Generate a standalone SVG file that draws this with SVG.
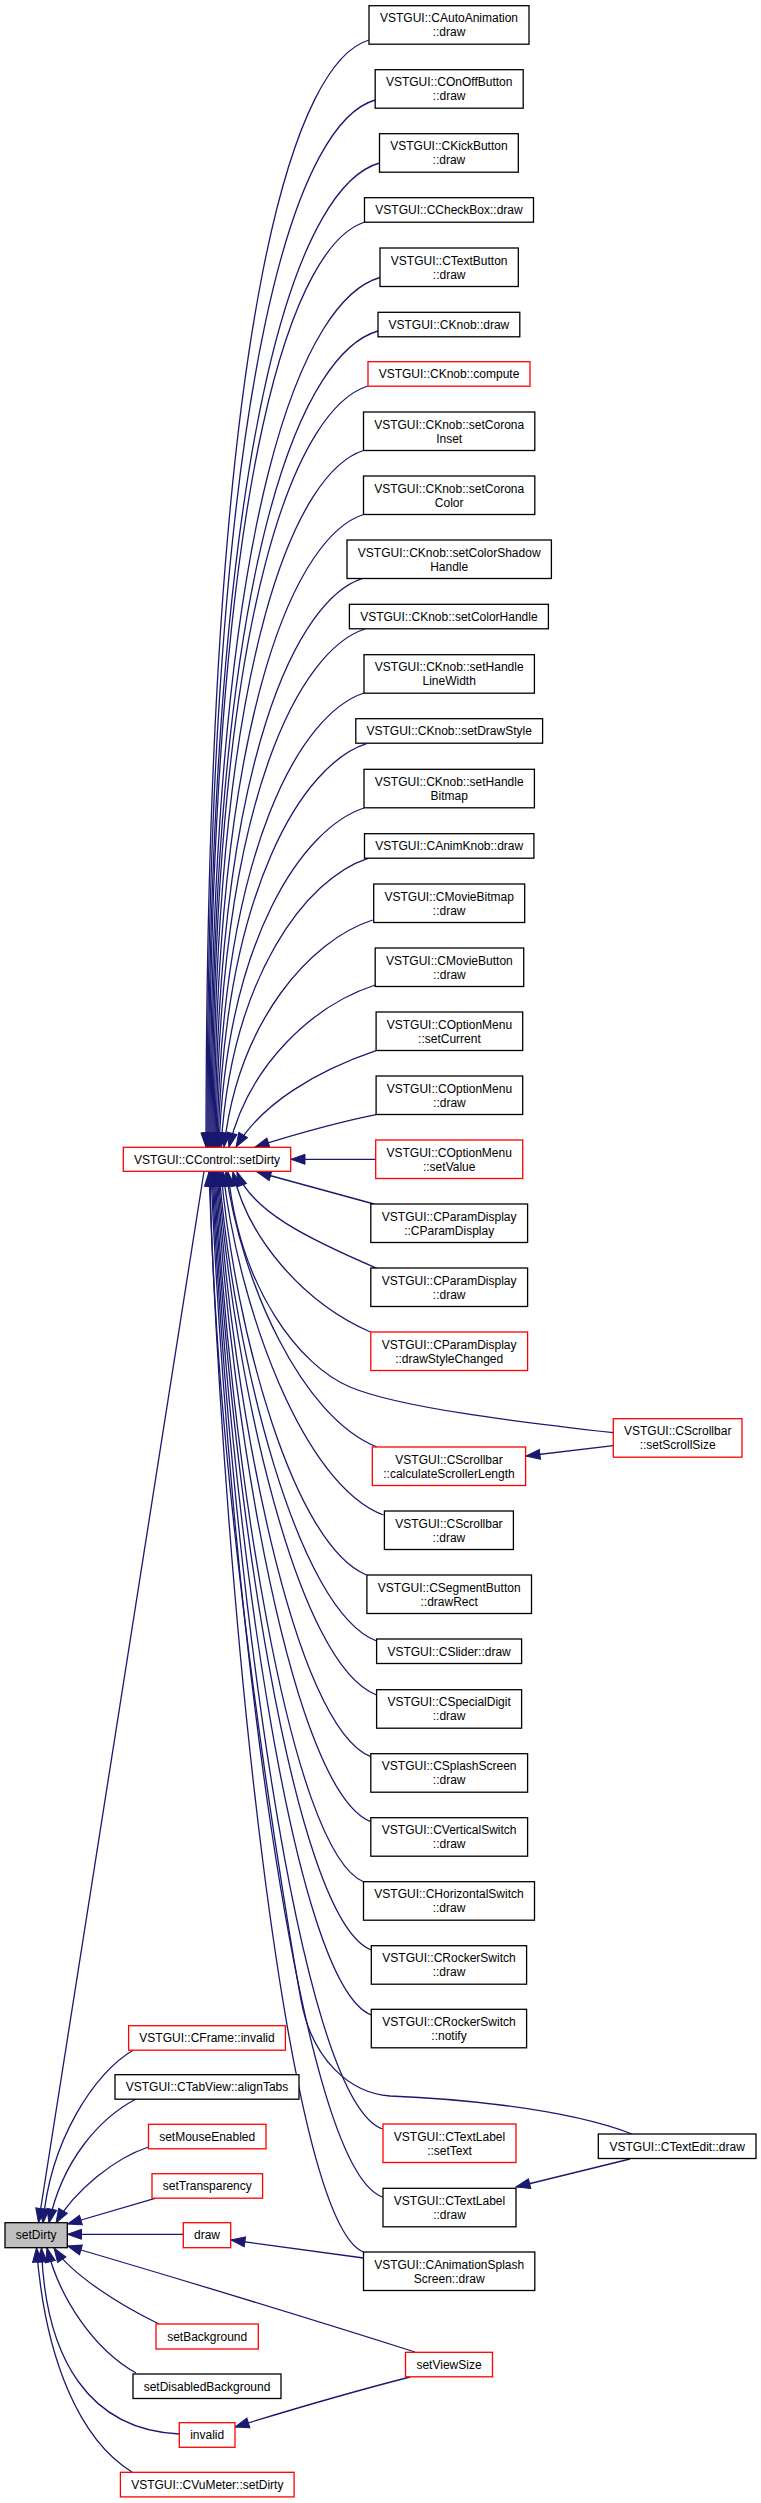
<svg xmlns="http://www.w3.org/2000/svg" width="761" height="2503" viewBox="0 0 761 2503">
<defs>
<style>
.n rect{fill:#fff;stroke:#000;stroke-width:1.3}
.r rect{fill:#fff;stroke:#ff0000;stroke-width:1.3}
.root rect{fill:#bfbfbf;stroke:#000;stroke-width:1.3}
text{font-family:"Liberation Sans",Arial,sans-serif;font-size:12px;text-anchor:middle;fill:#000}
#edges path{fill:none;stroke:#191970;stroke-width:1.3;marker-end:url(#ah)}
</style>
<marker id="ah" markerUnits="userSpaceOnUse" markerWidth="15" markerHeight="11" refX="14" refY="5" orient="auto" overflow="visible">
<path d="M0,0 L14,5 L0,10 Z" fill="#191970" stroke="#191970" stroke-width="1"/>
</marker>
</defs>
<rect width="761" height="2503" fill="#fff"/>
<g id="edges">
<path d="M369,40 C300.5,60 206.2,281 206,1147"/>
<path d="M375.2,100 C304.4,120 207.3,333.5 207,1147"/>
<path d="M379.5,163 C307.5,183 208.4,387 208,1147"/>
<path d="M365,222 C299.5,242 209.5,439 209,1147"/>
<path d="M380,277.5 C308.6,297.5 210.7,487 210,1147"/>
<path d="M378,331 C307.9,351 211.8,533.5 211,1147"/>
<path d="M368,386 C302.5,406 213,581.5 212,1147"/>
<path d="M363.5,450.5 C300.3,470.5 214.4,637.8 213,1147"/>
<path d="M363.5,514.5 C300.7,534.5 215.9,693.5 214,1147"/>
<path d="M362,578.7 C300.3,598.7 217.6,748.7 215,1147"/>
<path d="M365,629 C302.4,649 219.4,791 216,1147"/>
<path d="M364,693 C302.3,713 221.5,845 217,1147"/>
<path d="M366.5,743.7 C304.1,763.7 223.9,886.5 218,1147"/>
<path d="M364,808 C303.1,828 227,937.8 219,1147"/>
<path d="M368,858.3 C306.3,878.3 231.4,976.3 221,1147"/>
<path d="M372.7,920 C310.2,940 238.3,1021 224,1147"/>
<path d="M375.2,985 C313.8,1005 248.5,1064.4 229,1147"/>
<path d="M376,1050.7 C317.2,1070.7 262,1103.1 236,1147"/>
<path d="M376,1114.7 C330,1124 290,1136 255,1147"/>
<path d="M375.7,1159.3 L291,1159.3"/>
<path d="M374,1204 C330,1192 290,1181 257,1172"/>
<path d="M377,1268.3 C307,1238.3 251,1210.5 237,1172"/>
<path d="M370.4,1332 C301.7,1302 246.7,1236 233,1172"/>
<path d="M613.3,1432.7 C520,1422 400,1408 350,1387 C300,1366 240,1290 228,1172"/>
<path d="M377,1447 C301.5,1417 241,1282 226,1172"/>
<path d="M383.5,1515 C303.3,1485 239,1309.2 223,1172"/>
<path d="M366.5,1575 C293.8,1545 235.6,1333.2 221,1172"/>
<path d="M376.6,1641 C297.8,1611 234.8,1359.6 219,1172"/>
<path d="M376.6,1695 C297.3,1665 233.9,1381.2 218,1172"/>
<path d="M370.8,1756.7 C293.9,1726.7 232.4,1405.9 217,1172"/>
<path d="M370.8,1821.7 C293.4,1791.7 231.5,1431.9 216,1172"/>
<path d="M364,1882 C289.5,1852 229.9,1456 215,1172"/>
<path d="M371.3,1950 C292.7,1920 229.7,1483.2 214,1172"/>
<path d="M371.3,2015 C292.2,1985 228.8,1509.2 213,1172"/>
<path d="M382.5,2129 C297.3,2099 229.1,1554.8 212,1172"/>
<path d="M382.5,2197 C296.8,2167 228.2,1582 211,1172"/>
<path d="M632,2134 C560,2106 440,2098 390,2096 C350,2093 312,2060 301,2000 C290,1940 215,1500 210,1172"/>
<path d="M363.5,2252 C286,2222 224.5,1604 209,1172"/>
<path d="M613.3,1445.7 L526,1456"/>
<path d="M630,2159 L516,2187"/>
<path d="M363.5,2258 L231,2240"/>
<path d="M410,2377 C340,2395 290,2410 235,2427"/>
<path d="M204,1171.5 L38.5,2222.5"/>
<path d="M133.5,2050 C95,2072 50,2140 43,2223"/>
<path d="M136,2099 C100,2118 62,2160 49,2223"/>
<path d="M148.5,2147 C115,2158 75,2190 56,2223"/>
<path d="M155,2198.3 L67.5,2224"/>
<path d="M183.3,2234.3 L67.5,2234.3"/>
<path d="M415,2352 C330,2325 200,2285 67.5,2246"/>
<path d="M159,2324 C120,2305 72,2275 54,2248"/>
<path d="M136,2373 C95,2350 60,2300 47,2248"/>
<path d="M179.5,2434 C90,2430 45,2360 41.5,2248"/>
<path d="M132,2472 C80,2440 45,2360 36.5,2248"/>
</g>
<g id="n1" class="n"><rect x="369" y="5.7" width="160" height="38.5"/><text x="449" y="22.2">VSTGUI::CAutoAnimation</text><text x="449" y="36.2">::draw</text></g>
<g id="n2" class="n"><rect x="375.2" y="69.7" width="148" height="38.5"/><text x="449.2" y="86.2">VSTGUI::COnOffButton</text><text x="449.2" y="100.2">::draw</text></g>
<g id="n3" class="n"><rect x="379.5" y="133.7" width="138.8" height="38.5"/><text x="448.9" y="150.2">VSTGUI::CKickButton</text><text x="448.9" y="164.2">::draw</text></g>
<g id="n4" class="n"><rect x="364.5" y="197.7" width="169" height="24.5"/><text x="449" y="214.2">VSTGUI::CCheckBox::draw</text></g>
<g id="n5" class="n"><rect x="380" y="248" width="138.3" height="38.5"/><text x="449.2" y="264.5">VSTGUI::CTextButton</text><text x="449.2" y="278.5">::draw</text></g>
<g id="n6" class="n"><rect x="378" y="312.3" width="141.8" height="24.5"/><text x="448.9" y="328.8">VSTGUI::CKnob::draw</text></g>
<g id="n7" class="r"><rect x="368" y="361.7" width="162" height="24.5"/><text x="449" y="378.2">VSTGUI::CKnob::compute</text></g>
<g id="n8" class="n"><rect x="363.5" y="412" width="171.3" height="38.5"/><text x="449.2" y="428.5">VSTGUI::CKnob::setCorona</text><text x="449.2" y="442.5">Inset</text></g>
<g id="n9" class="n"><rect x="363.5" y="476" width="171.3" height="38.5"/><text x="449.2" y="492.5">VSTGUI::CKnob::setCorona</text><text x="449.2" y="506.5">Color</text></g>
<g id="n10" class="n"><rect x="347" y="540" width="204.4" height="38.5"/><text x="449.2" y="556.5">VSTGUI::CKnob::setColorShadow</text><text x="449.2" y="570.5">Handle</text></g>
<g id="n11" class="n"><rect x="349.4" y="604.3" width="199" height="24.5"/><text x="448.9" y="620.8">VSTGUI::CKnob::setColorHandle</text></g>
<g id="n12" class="n"><rect x="364" y="654.7" width="170.4" height="38.5"/><text x="449.2" y="671.2">VSTGUI::CKnob::setHandle</text><text x="449.2" y="685.2">LineWidth</text></g>
<g id="n13" class="n"><rect x="355.8" y="718.7" width="186.8" height="24.5"/><text x="449.2" y="735.2">VSTGUI::CKnob::setDrawStyle</text></g>
<g id="n14" class="n"><rect x="364" y="769.3" width="170.4" height="38.5"/><text x="449.2" y="785.8">VSTGUI::CKnob::setHandle</text><text x="449.2" y="799.8">Bitmap</text></g>
<g id="n15" class="n"><rect x="364.5" y="833.7" width="169.4" height="24.5"/><text x="449.2" y="850.2">VSTGUI::CAnimKnob::draw</text></g>
<g id="n16" class="n"><rect x="373.7" y="884" width="151" height="38.5"/><text x="449.2" y="900.5">VSTGUI::CMovieBitmap</text><text x="449.2" y="914.5">::draw</text></g>
<g id="n17" class="n"><rect x="375.2" y="948" width="148.5" height="38.5"/><text x="449.4" y="964.5">VSTGUI::CMovieButton</text><text x="449.4" y="978.5">::draw</text></g>
<g id="n18" class="n"><rect x="376.1" y="1012" width="146.6" height="38.5"/><text x="449.4" y="1028.5">VSTGUI::COptionMenu</text><text x="449.4" y="1042.5">::setCurrent</text></g>
<g id="n19" class="n"><rect x="376.1" y="1076" width="146.6" height="38.5"/><text x="449.4" y="1092.5">VSTGUI::COptionMenu</text><text x="449.4" y="1106.5">::draw</text></g>
<g id="n20" class="r"><rect x="375.7" y="1140" width="147" height="38.5"/><text x="449.2" y="1156.5">VSTGUI::COptionMenu</text><text x="449.2" y="1170.5">::setValue</text></g>
<g id="n21" class="n"><rect x="370.8" y="1204" width="156.8" height="38.5"/><text x="449.2" y="1220.5">VSTGUI::CParamDisplay</text><text x="449.2" y="1234.5">::CParamDisplay</text></g>
<g id="n22" class="n"><rect x="370.8" y="1268" width="156.8" height="38.5"/><text x="449.2" y="1284.5">VSTGUI::CParamDisplay</text><text x="449.2" y="1298.5">::draw</text></g>
<g id="n23" class="r"><rect x="370.8" y="1332" width="156.8" height="38.5"/><text x="449.2" y="1348.5">VSTGUI::CParamDisplay</text><text x="449.2" y="1362.5">::drawStyleChanged</text></g>
<g id="n24" class="r"><rect x="372.3" y="1447" width="153.3" height="38.5"/><text x="449" y="1463.5">VSTGUI::CScrollbar</text><text x="449" y="1477.5">::calculateScrollerLength</text></g>
<g id="n25" class="n"><rect x="384.4" y="1511" width="129" height="38.5"/><text x="448.9" y="1527.5">VSTGUI::CScrollbar</text><text x="448.9" y="1541.5">::draw</text></g>
<g id="n26" class="n"><rect x="366.9" y="1575" width="164.6" height="38.5"/><text x="449.2" y="1591.5">VSTGUI::CSegmentButton</text><text x="449.2" y="1605.5">::drawRect</text></g>
<g id="n27" class="n"><rect x="376.6" y="1639" width="145" height="24.5"/><text x="449.1" y="1655.5">VSTGUI::CSlider::draw</text></g>
<g id="n28" class="n"><rect x="376.6" y="1689.7" width="145" height="38.5"/><text x="449.1" y="1706.2">VSTGUI::CSpecialDigit</text><text x="449.1" y="1720.2">::draw</text></g>
<g id="n29" class="n"><rect x="370.8" y="1753.7" width="156.8" height="38.5"/><text x="449.2" y="1770.2">VSTGUI::CSplashScreen</text><text x="449.2" y="1784.2">::draw</text></g>
<g id="n30" class="n"><rect x="370.8" y="1817.7" width="156.8" height="38.5"/><text x="449.2" y="1834.2">VSTGUI::CVerticalSwitch</text><text x="449.2" y="1848.2">::draw</text></g>
<g id="n31" class="n"><rect x="363.5" y="1881.7" width="171" height="38.5"/><text x="449" y="1898.2">VSTGUI::CHorizontalSwitch</text><text x="449" y="1912.2">::draw</text></g>
<g id="n32" class="n"><rect x="371.3" y="1945.7" width="155.3" height="38.5"/><text x="449" y="1962.2">VSTGUI::CRockerSwitch</text><text x="449" y="1976.2">::draw</text></g>
<g id="n33" class="n"><rect x="371.3" y="2009.3" width="155.3" height="38.5"/><text x="449" y="2025.8">VSTGUI::CRockerSwitch</text><text x="449" y="2039.8">::notify</text></g>
<g id="n34" class="r"><rect x="383" y="2124" width="133" height="38.5"/><text x="449.5" y="2140.5">VSTGUI::CTextLabel</text><text x="449.5" y="2154.5">::setText</text></g>
<g id="n35" class="n"><rect x="383" y="2188.3" width="133" height="38.5"/><text x="449.5" y="2204.8">VSTGUI::CTextLabel</text><text x="449.5" y="2218.8">::draw</text></g>
<g id="n36" class="n"><rect x="363.5" y="2252" width="171.3" height="38.5"/><text x="449.2" y="2268.5">VSTGUI::CAnimationSplash</text><text x="449.2" y="2282.5">Screen::draw</text></g>
<g id="n37" class="r"><rect x="405.5" y="2352.3" width="87" height="24.5"/><text x="449" y="2368.8">setViewSize</text></g>
<g id="setScrollSize" class="r"><rect x="613.3" y="1418.7" width="128.7" height="38.5"/><text x="677.7" y="1435.2">VSTGUI::CScrollbar</text><text x="677.7" y="1449.2">::setScrollSize</text></g>
<g id="textEditDraw" class="n"><rect x="598.3" y="2134" width="157.7" height="24.5"/><text x="677.2" y="2150.5">VSTGUI::CTextEdit::draw</text></g>
<g id="controlSetDirty" class="r"><rect x="123.3" y="1147.3" width="167.4" height="24"/><text x="207" y="1163.5">VSTGUI::CControl::setDirty</text></g>
<g id="frameInvalid" class="r"><rect x="128.6" y="2025.7" width="156.8" height="24.5"/><text x="207" y="2042.2">VSTGUI::CFrame::invalid</text></g>
<g id="alignTabs" class="n"><rect x="115" y="2074.7" width="184" height="24.5"/><text x="207" y="2091.2">VSTGUI::CTabView::alignTabs</text></g>
<g id="setMouseEnabled" class="r"><rect x="148.5" y="2124.3" width="117.5" height="24.5"/><text x="207.2" y="2140.8">setMouseEnabled</text></g>
<g id="setTransparency" class="r"><rect x="152" y="2173.7" width="110.6" height="24.5"/><text x="207.3" y="2190.2">setTransparency</text></g>
<g id="setDirty" class="root"><rect x="5" y="2222.7" width="62.3" height="25"/><text x="36.2" y="2239.2">setDirty</text></g>
<g id="draw" class="r"><rect x="183.3" y="2222.7" width="47.4" height="25"/><text x="207" y="2239.2">draw</text></g>
<g id="setBackground" class="r"><rect x="156" y="2324" width="102.3" height="25"/><text x="207.2" y="2340.5">setBackground</text></g>
<g id="setDisabledBackground" class="n"><rect x="133" y="2374" width="148" height="24.5"/><text x="207" y="2390.5">setDisabledBackground</text></g>
<g id="invalid" class="r"><rect x="179.3" y="2422.7" width="55.7" height="24.6"/><text x="207.2" y="2439.2">invalid</text></g>
<g id="vuMeterSetDirty" class="r"><rect x="120.4" y="2472.3" width="173.7" height="24.6"/><text x="207.3" y="2488.8">VSTGUI::CVuMeter::setDirty</text></g>
</svg>
